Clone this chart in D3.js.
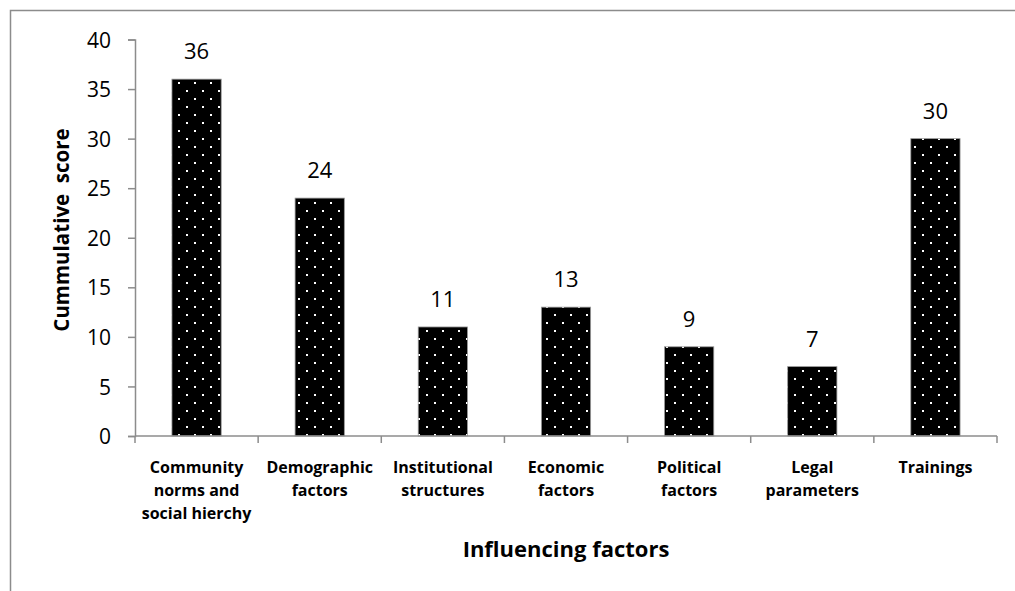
<!DOCTYPE html>
<html>
<head>
<meta charset="utf-8">
<script src="https://cdn.jsdelivr.net/npm/d3@7"></script>
<style>
  body { margin: 0; background: #fff; }
  text { font-family: "Open Sans", Lato, sans-serif; fill: #000; }
</style>
</head>
<body>
<svg id="chart" width="1015" height="591"></svg>
<script>
const categories = [
  ["Community", "norms and", "social hierchy"],
  ["Demographic", "factors"],
  ["Institutional", "structures"],
  ["Economic", "factors"],
  ["Political", "factors"],
  ["Legal", "parameters"],
  ["Trainings"]
];
const scores = [36, 24, 11, 13, 9, 7, 30];
const yTicks = [0, 5, 10, 15, 20, 25, 30, 35, 40];

const svg = d3.select("#chart");
const margin = { left: 135, right: 18, top: 39.5, bottom: 155 };
const width = 1015, height = 591;

// outer chart border (right and bottom fall outside the picture)
svg.append("rect")
  .attr("x", 10.5).attr("y", 10.5)
  .attr("width", 1020).attr("height", 600)
  .attr("fill", "none").attr("stroke", "#8c8c8c").attr("stroke-width", 1.5);

// dotted fill for the bars
const defs = svg.append("defs");
const pat = defs.append("pattern")
  .attr("id", "dots")
  .attr("patternUnits", "userSpaceOnUse")
  .attr("width", 16).attr("height", 16);
pat.append("rect").attr("width", 16).attr("height", 16).attr("fill", "#000");
pat.append("rect").attr("x", 2).attr("y", 2).attr("width", 2).attr("height", 2).attr("fill", "#fff");
pat.append("rect").attr("x", 10).attr("y", 10).attr("width", 2).attr("height", 2).attr("fill", "#fff");

const x = d3.scaleBand()
  .domain(d3.range(categories.length))
  .range([margin.left, width - margin.right])
  .paddingInner(0.6)
  .paddingOuter(0.3);

const y = d3.scaleLinear()
  .domain([0, 40])
  .range([height - margin.bottom, margin.top]);

// bars
svg.append("g")
  .selectAll("rect")
  .data(scores)
  .enter()
  .append("rect")
  .attr("x", (d, i) => x(i))
  .attr("y", d => y(d))
  .attr("width", x.bandwidth())
  .attr("height", d => y(0) - y(d))
  .attr("fill", "url(#dots)")
  .attr("stroke", "#9a9a9a")
  .attr("stroke-width", 0.8);

// value labels
svg.append("g")
  .selectAll("text")
  .data(scores)
  .enter()
  .append("text")
  .attr("x", (d, i) => x(i) + x.bandwidth() / 2)
  .attr("y", d => y(d) - 20)
  .attr("text-anchor", "middle")
  .style("font-size", "22px")
  .text(d => d);

// y axis
const yAxis = svg.append("g")
  .attr("transform", `translate(${margin.left},0)`)
  .call(d3.axisLeft(y).tickValues(yTicks).tickSize(7).tickPadding(17));
yAxis.selectAll("line, path").attr("stroke", "#8c8c8c").attr("stroke-width", 1.5);
yAxis.selectAll("text").style("font-size", "21px").attr("dy", "0.36em");

// x axis: ticks at category boundaries
const step = x.step();
const xBase = y(0);
const xg = svg.append("g");
xg.append("line")
  .attr("x1", margin.left).attr("x2", width - margin.right)
  .attr("y1", xBase).attr("y2", xBase)
  .attr("stroke", "#8c8c8c").attr("stroke-width", 1.5);
xg.selectAll("line.tick")
  .data(d3.range(categories.length + 1))
  .enter()
  .append("line")
  .attr("class", "tick")
  .attr("x1", i => margin.left + i * step)
  .attr("x2", i => margin.left + i * step)
  .attr("y1", xBase).attr("y2", xBase + 7)
  .attr("stroke", "#8c8c8c").attr("stroke-width", 1.5);

// category labels
const cat = svg.append("g")
  .selectAll("text")
  .data(categories)
  .enter()
  .append("text")
  .attr("x", (d, i) => x(i) + x.bandwidth() / 2)
  .attr("y", xBase + 37)
  .attr("text-anchor", "middle")
  .style("font-size", "16px")
  .style("font-weight", "bold");
cat.selectAll("tspan")
  .data(d => d)
  .enter()
  .append("tspan")
  .attr("x", function () { return this.parentNode.getAttribute("x"); })
  .attr("dy", (d, i) => (i === 0 ? 0 : 23))
  .text(d => d);

// axis titles
svg.append("text")
  .attr("x", 566)
  .attr("y", 557)
  .attr("text-anchor", "middle")
  .style("font-size", "22px")
  .style("font-weight", "bold")
  .text("Influencing factors");

svg.append("text")
  .attr("transform", "translate(69,230) rotate(-90)")
  .attr("text-anchor", "middle")
  .style("font-size", "20.5px")
  .style("font-weight", "bold")
  .style("white-space", "pre")
  .text("Cummulative  score");
</script>
</body>
</html>
